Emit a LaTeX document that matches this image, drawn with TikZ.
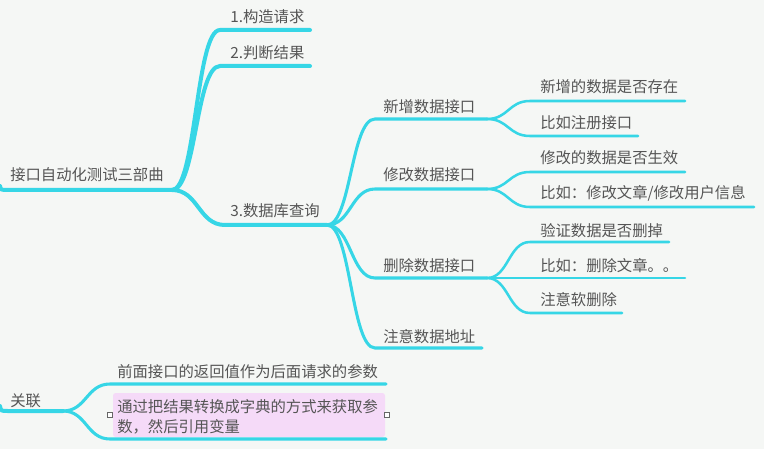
\documentclass[tikz,border=0pt]{standalone}
\usepackage{fontspec}
\setmainfont{Noto Sans CJK SC}
\usetikzlibrary{calc}
\definecolor{bg}{HTML}{F5F7F5}
\definecolor{cy}{HTML}{36D6E6}
\definecolor{tx}{HTML}{555555}
\definecolor{pk}{HTML}{F5DAF8}
\definecolor{hd}{HTML}{666666}
\newcommand\mmbranch[4]{\draw[#1] let \p1=(#2), \p2=(#3) in (#2) .. controls ({0.5*\x1+0.5*\x2},\y1) and ({0.5*\x1+0.5*\x2},\y2) .. (#3) -- (#4);}
\begin{document}
\begin{tikzpicture}[x=0.75pt,y=-0.75pt,
  lbl/.style={anchor=base west, inner sep=0pt, text=tx, font=\fontsize{11.5}{15}\selectfont},
  l1/.style={draw=cy, line width=3pt, line cap=round},
  l2/.style={draw=cy, line width=2.3pt, line cap=round},
  l3/.style={draw=cy, line width=1.9pt, line cap=round},
  handle/.style={draw=hd, fill=white, line width=0.6pt, minimum size=4pt, inner sep=0pt},
]
\fill[bg] (0,0) rectangle (764,449);
\useasboundingbox (0,0) rectangle (764,449);

% coordinates of underlines
\coordinate (root-s) at (8,190);   \coordinate (root-e) at (172,190);
\coordinate (t1-s) at (220,30);    \coordinate (t1-e) at (310,30);
\coordinate (t2-s) at (220,66);    \coordinate (t2-e) at (310,66);
\coordinate (t3-s) at (225,225);   \coordinate (t3-e) at (327,225);
\coordinate (a-s) at (375,119);    \coordinate (a-e) at (487,119);
\coordinate (b-s) at (375,189);    \coordinate (b-e) at (487,189);
\coordinate (c-s) at (375,278);    \coordinate (c-e) at (487,278);
\coordinate (d-s) at (375,348);    \coordinate (d-e) at (482,348);
\coordinate (a1-s) at (530,101);   \coordinate (a1-e) at (685,101);
\coordinate (a2-s) at (530,136);   \coordinate (a2-e) at (638,136);
\coordinate (b1-s) at (530,172);   \coordinate (b1-e) at (685,172);
\coordinate (b2-s) at (530,207);   \coordinate (b2-e) at (754,207);
\coordinate (c1-s) at (530,242);   \coordinate (c1-e) at (669,242);
\coordinate (c2-e) at (685,278);
\coordinate (c3-s) at (530,313);   \coordinate (c3-e) at (622,313);
\coordinate (rel-s) at (8,411);    \coordinate (rel-e) at (63,411);
\coordinate (r1-s) at (110,384);   \coordinate (r1-e) at (386,384);
\coordinate (r2-s) at (110,439);   \coordinate (r2-e) at (386,439);
\coordinate (root-l) at (0,186);
\coordinate (rel-l) at (0,406);

% pink box
\node[draw=none, fill=pk, rounded corners=2pt, minimum width=272*0.75pt, minimum height=44*0.75pt, inner sep=0pt] (box) at (249,415) {};

% root lines
\draw[l1] (root-l) .. controls (1,190) .. (root-s) -- (root-e);
\draw[l1] (rel-l) .. controls (1,411) .. (rel-s) -- (rel-e);

% level 1
\mmbranch{l1}{root-e}{t1-s}{t1-e}
\mmbranch{l1}{root-e}{t2-s}{t2-e}
\mmbranch{l1}{root-e}{t3-s}{t3-e}
\mmbranch{l2}{rel-e}{r1-s}{r1-e}
\mmbranch{l2}{rel-e}{r2-s}{r2-e}

% level 2
\mmbranch{l2}{t3-e}{a-s}{a-e}
\mmbranch{l2}{t3-e}{b-s}{b-e}
\mmbranch{l2}{t3-e}{c-s}{c-e}
\mmbranch{l2}{t3-e}{d-s}{d-e}

% level 3
\mmbranch{l3}{a-e}{a1-s}{a1-e}
\mmbranch{l3}{a-e}{a2-s}{a2-e}
\mmbranch{l3}{b-e}{b1-s}{b1-e}
\mmbranch{l3}{b-e}{b2-s}{b2-e}
\mmbranch{l3}{c-e}{c1-s}{c1-e}
\draw[l3] (c-e) -- (c2-e);
\mmbranch{l3}{c-e}{c3-s}{c3-e}

% labels
\node[lbl] (root) at (10,181) {接口自动化测试三部曲};
\node[lbl] (t1) at (230,23) {1.构造请求};
\node[lbl] (t2) at (230,59) {2.判断结果};
\node[lbl] (t3) at (230,216) {3.数据库查询};
\node[lbl] (a) at (383,113) {新增数据接口};
\node[lbl] (b) at (383,181) {修改数据接口};
\node[lbl] (c) at (383,271) {删除数据接口};
\node[lbl] (d) at (383,342) {注意数据地址};
\node[lbl] (a1) at (540,93) {新增的数据是否存在};
\node[lbl] (a2) at (540,129) {比如注册接口};
\node[lbl] (b1) at (540,164) {修改的数据是否生效};
\node[lbl] (b2) at (540,199) {比如：修改文章/修改用户信息};
\node[lbl] (c1) at (540,236) {验证数据是否删掉};
\node[lbl] (c2) at (540,271) {比如：删除文章。。};
\node[lbl] (c3) at (540,305) {注意软删除};
\node[lbl] (rel) at (10,406) {关联};
\node[lbl] (r1) at (117,377) {前面接口的返回值作为后面请求的参数};
\node[lbl, anchor=west, align=left] (r2) at (117,417) {通过把结果转换成字典的方式来获取参\\数，然后引用变量};

% selection handles
\node[handle] (hl) at (110,415) {};
\node[handle] (hr) at (387,415) {};
\end{tikzpicture}
\end{document}
